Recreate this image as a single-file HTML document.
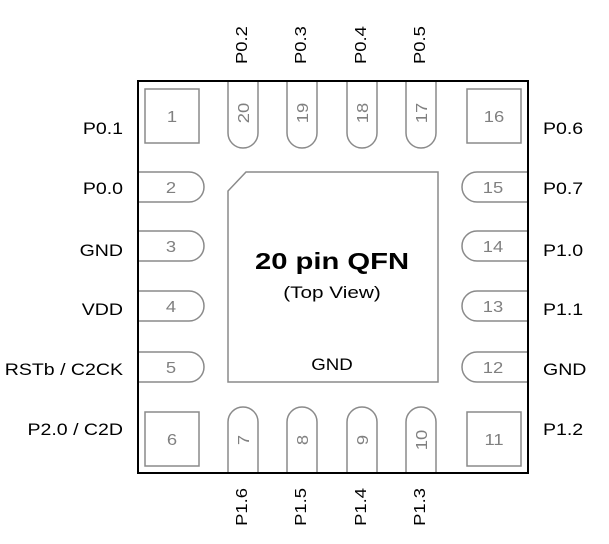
<!DOCTYPE html>
<html><head><style>body{margin:0;background:#fff}svg{display:block}</style></head><body>
<svg width="609" height="544" viewBox="0 0 609 544" xmlns="http://www.w3.org/2000/svg" font-family="Liberation Sans, Arial, sans-serif">
<rect x="0" y="0" width="609" height="544" fill="#fff"/>
<g fill="none" stroke="#8a8a8a" stroke-width="1.5">
<rect x="145" y="89" width="54" height="54"/>
<rect x="467" y="89" width="54" height="54"/>
<rect x="145" y="412" width="54" height="54"/>
<rect x="467" y="412" width="54" height="54"/>
<path d="M246 172 L438 172 L438 382 L228 382 L228 191 Z"/>
<path d="M228 81 V133 A15 15 0 0 0 258 133 V81"/>
<path d="M287 81 V133 A15 15 0 0 0 317 133 V81"/>
<path d="M347 81 V133 A15 15 0 0 0 377 133 V81"/>
<path d="M406 81 V133 A15 15 0 0 0 436 133 V81"/>
<path d="M228 473 V422 A15 15 0 0 1 258 422 V473"/>
<path d="M287 473 V422 A15 15 0 0 1 317 422 V473"/>
<path d="M347 473 V422 A15 15 0 0 1 377 422 V473"/>
<path d="M406 473 V422 A15 15 0 0 1 436 422 V473"/>
<path d="M138 172 H189 A15 15 0 0 1 189 202 H138"/>
<path d="M138 231 H189 A15 15 0 0 1 189 261 H138"/>
<path d="M138 291 H189 A15 15 0 0 1 189 321 H138"/>
<path d="M138 352 H189 A15 15 0 0 1 189 382 H138"/>
<path d="M528 172 H477 A15 15 0 0 0 477 202 H528"/>
<path d="M528 231 H477 A15 15 0 0 0 477 261 H528"/>
<path d="M528 291 H477 A15 15 0 0 0 477 321 H528"/>
<path d="M528 352 H477 A15 15 0 0 0 477 382 H528"/>
</g>
<rect x="138" y="81" width="390" height="392" fill="none" stroke="#000" stroke-width="2"/>
<g fill="#808080" font-size="16" text-anchor="middle">
<text transform="translate(172,122) scale(1.15,1)">1</text><text transform="translate(172,445) scale(1.15,1)">6</text>
<text transform="translate(494,122) scale(1.15,1)">16</text><text transform="translate(494,445) scale(1.15,1)">11</text>
<text transform="translate(171,193) scale(1.15,1)">2</text><text transform="translate(171,252) scale(1.15,1)">3</text><text transform="translate(171,312) scale(1.15,1)">4</text><text transform="translate(171,373) scale(1.15,1)">5</text>
<text transform="translate(493,193) scale(1.15,1)">15</text><text transform="translate(493,252) scale(1.15,1)">14</text><text transform="translate(493,312) scale(1.15,1)">13</text><text transform="translate(493,373) scale(1.15,1)">12</text>
<text transform="translate(249,113) rotate(-90) scale(1.15,1)">20</text>
<text transform="translate(308,113) rotate(-90) scale(1.15,1)">19</text>
<text transform="translate(368,113) rotate(-90) scale(1.15,1)">18</text>
<text transform="translate(427,113) rotate(-90) scale(1.15,1)">17</text>
<text transform="translate(249,440) rotate(-90) scale(1.15,1)">7</text>
<text transform="translate(308,440) rotate(-90) scale(1.15,1)">8</text>
<text transform="translate(368,440) rotate(-90) scale(1.15,1)">9</text>
<text transform="translate(427,440) rotate(-90) scale(1.15,1)">10</text>
</g>
<g fill="#000" font-size="17">
<g text-anchor="end">
<text transform="translate(123,134) scale(1.15,1)">P0.1</text>
<text transform="translate(123,194) scale(1.15,1)">P0.0</text>
<text transform="translate(123,256) scale(1.15,1)">GND</text>
<text transform="translate(123,315) scale(1.15,1)">VDD</text>
<text transform="translate(123,375) scale(1.15,1)">RSTb / C2CK</text>
<text transform="translate(123,435) scale(1.15,1)">P2.0 / C2D</text>
</g>
<text transform="translate(543,134) scale(1.15,1)">P0.6</text>
<text transform="translate(543,194) scale(1.15,1)">P0.7</text>
<text transform="translate(543,256) scale(1.15,1)">P1.0</text>
<text transform="translate(543,315) scale(1.15,1)">P1.1</text>
<text transform="translate(543,375) scale(1.15,1)">GND</text>
<text transform="translate(543,435) scale(1.15,1)">P1.2</text>
<g font-size="16">
<text transform="translate(247,64) rotate(-90) scale(1.15,1)">P0.2</text>
<text transform="translate(306,64) rotate(-90) scale(1.15,1)">P0.3</text>
<text transform="translate(366,64) rotate(-90) scale(1.15,1)">P0.4</text>
<text transform="translate(425,64) rotate(-90) scale(1.15,1)">P0.5</text>
<g text-anchor="end">
<text transform="translate(247,488) rotate(-90) scale(1.15,1)">P1.6</text>
<text transform="translate(306,488) rotate(-90) scale(1.15,1)">P1.5</text>
<text transform="translate(366,488) rotate(-90) scale(1.15,1)">P1.4</text>
<text transform="translate(425,488) rotate(-90) scale(1.15,1)">P1.3</text>
</g>
</g>
<text transform="translate(332,269) scale(1.27,1)" font-size="23" font-weight="bold" text-anchor="middle">20 pin QFN</text>
<text transform="translate(332,298) scale(1.22,1)" font-size="17" text-anchor="middle">(Top View)</text>
<text transform="translate(332,370) scale(1.1,1)" font-size="17" text-anchor="middle">GND</text>
</g>
</svg>
</body></html>
